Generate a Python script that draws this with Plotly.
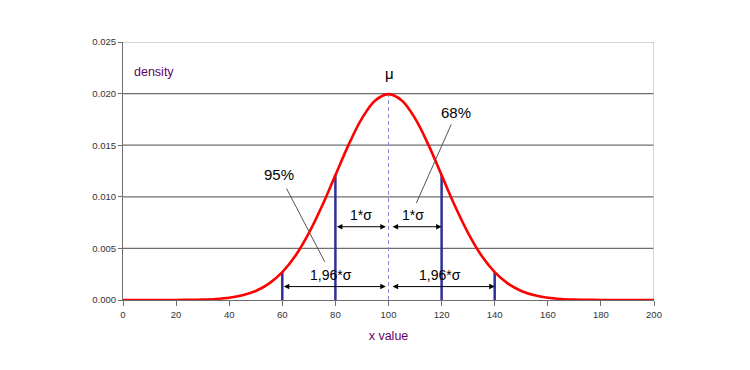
import plotly.graph_objects as go

# Density curve values (x value -> density)
x_vals = [0, 5, 10, 15, 20, 25, 30, 35, 40, 45, 50, 55, 60, 65, 70, 75, 80, 85, 90, 95,
          100, 105, 110, 115, 120, 125, 130, 135, 140, 145, 150, 155, 160, 165, 170, 175,
          180, 185, 190, 195, 200]
density = [0.0000001, 0.0000002, 0.0000008, 0.0000024, 0.0000067, 0.0000177, 0.0000436,
           0.000102, 0.000222, 0.000455, 0.000876, 0.001587, 0.00270, 0.00431, 0.00648,
           0.00913, 0.01210, 0.01506, 0.01760, 0.01933, 0.01995, 0.01933, 0.01760, 0.01506,
           0.01210, 0.00913, 0.00648, 0.00431, 0.00270, 0.001587, 0.000876, 0.000455,
           0.000222, 0.000102, 0.0000436, 0.0000177, 0.0000067, 0.0000024, 0.0000008,
           0.0000002, 0.0000001]

mu = 100
sigma_lines_x = [60, 80, 120, 140]
sigma_lines_top = [0.00270, 0.01210, 0.01210, 0.00270]
peak = 0.01995

# Arrow spans (start, end, height)
arrows = [(80, 99, 0.0071), (101, 120, 0.0071), (60, 99, 0.0013), (101, 140, 0.0013)]
arrow_labels = [("1*σ", 89.5, 0.0082), ("1*σ", 109.2, 0.0082),
                ("1,96*σ", 78.5, 0.0024), ("1,96*σ", 119.3, 0.0024)]
callouts = [("68%", 125.3, 0.0182), ("95%", 58.8, 0.0122), ("μ", 100.4, 0.0219)]
leaders = [((123.6, 0.0170), (110.5, 0.0094)), ((61.6, 0.0108), (76.0, 0.0037))]

x_ticks = list(range(0, 201, 20))
y_ticks = [0.000, 0.005, 0.010, 0.015, 0.020, 0.025]
y_tick_text = ["0.000", "0.005", "0.010", "0.015", "0.020", "0.025"]

FONT = "Liberation Sans, Arial"

fig = go.Figure()

# gridlines
for yv in y_ticks[1:-1]:
    fig.add_shape(type="line", xref="x", yref="y", x0=0, x1=200, y0=yv, y1=yv,
                  line=dict(color="#6e6e6e", width=1.2), layer="below")
# plot border top/right (light)
fig.add_shape(type="line", xref="x", yref="y", x0=0, x1=200, y0=0.025, y1=0.025,
              line=dict(color="#c4c4c4", width=1.5), layer="below")
fig.add_shape(type="line", xref="x", yref="y", x0=200, x1=200, y0=0, y1=0.025,
              line=dict(color="#c4c4c4", width=1.5), layer="below")

# dashed mean line
fig.add_trace(go.Scatter(x=[mu, mu], y=[0, peak], mode="lines",
                         line=dict(color="#8a8ae0", width=1, dash="4px,3px"),
                         hoverinfo="skip", showlegend=False))

# sigma lines
for xv, top in zip(sigma_lines_x, sigma_lines_top):
    fig.add_trace(go.Scatter(x=[xv, xv], y=[0, top], mode="lines",
                             line=dict(color="#2f2f9a", width=2.5),
                             hoverinfo="skip", showlegend=False))

# curve
fig.add_trace(go.Scatter(x=x_vals, y=density, mode="lines",
                         line=dict(color="#ff0000", width=2.6, shape="spline"),
                         showlegend=False))

# leader lines
for (p0, p1) in leaders:
    fig.add_trace(go.Scatter(x=[p0[0], p1[0]], y=[p0[1], p1[1]], mode="lines",
                             line=dict(color="#555555", width=1),
                             hoverinfo="skip", showlegend=False))

annotations = []
for (a, b, h) in arrows:
    annotations.append(dict(x=b, y=h, ax=a, ay=h, xref="x", yref="y", axref="x", ayref="y",
                            showarrow=True, arrowhead=2, arrowside="end+start",
                            arrowsize=1.1, arrowwidth=1, arrowcolor="#000000",
                            standoff=0, startstandoff=0, text=""))
for (t, xv, yv) in arrow_labels:
    annotations.append(dict(x=xv, y=yv, xref="x", yref="y", text=t, showarrow=False,
                            font=dict(family=FONT, size=14, color="#000000")))
for (t, xv, yv) in callouts:
    annotations.append(dict(x=xv, y=yv, xref="x", yref="y", text=t, showarrow=False,
                            font=dict(family=FONT, size=15, color="#000000")))
annotations.append(dict(x=3.3, y=0.0221, xref="x", yref="y", text="density", showarrow=False,
                        xanchor="left",
                        font=dict(family=FONT, size=12.5, color="#660066")))

fig.update_layout(
    width=750, height=370,
    margin=dict(l=115, r=104, t=34, b=78),
    paper_bgcolor="white", plot_bgcolor="white",
    annotations=annotations,
    xaxis=dict(range=[0, 200], tickvals=x_ticks, showgrid=False, zeroline=False,
               showline=True, linecolor="#6e6e6e", linewidth=1.2,
               ticks="outside", ticklen=5, tickcolor="#6e6e6e",
               tickfont=dict(family=FONT, size=9.5, color="#333333"),
               title=dict(text="x value", standoff=12,
                          font=dict(family=FONT, size=12.5, color="#660066"))),
    yaxis=dict(range=[0, 0.025], tickvals=y_ticks, ticktext=y_tick_text, showgrid=False,
               zeroline=False, showline=True, linecolor="#6e6e6e", linewidth=1.2,
               ticks="outside", ticklen=4, tickcolor="#6e6e6e",
               tickfont=dict(family=FONT, size=9.5, color="#333333")),
)

fig.write_html("out.html")
